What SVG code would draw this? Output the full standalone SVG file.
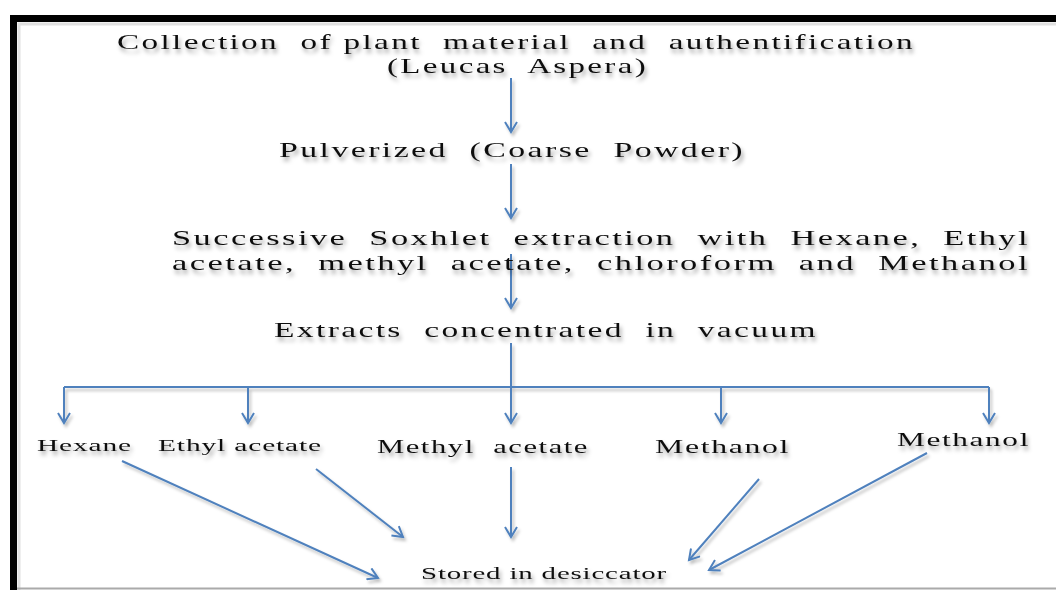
<svg xmlns="http://www.w3.org/2000/svg" width="1056" height="590" viewBox="0 0 1056 590">
<style>
text{font-family:"Liberation Serif","Times New Roman",serif;fill:#111;filter:url(#sh);white-space:pre}
.t{font-size:21px;letter-spacing:1.5px}
.s{font-size:17px;letter-spacing:0.5px}
.m{font-size:19px;letter-spacing:1px}
.c{stroke:#4f81bd;stroke-width:2;fill:none;marker-end:url(#ah)}
.l{stroke:#4f81bd;stroke-width:2;fill:none}
</style>
<defs>
<filter id="sh" x="-5%" y="-30%" width="110%" height="180%">
<feDropShadow dx="2" dy="4" stdDeviation="2" flood-color="#000" flood-opacity="0.35"/>
</filter>
<filter id="lsh" x="-10%" y="-10%" width="120%" height="120%">
<feDropShadow dx="2" dy="3" stdDeviation="1.5" flood-color="#000" flood-opacity="0.25"/>
</filter>
<marker id="ah" markerWidth="14" markerHeight="14" refX="11" refY="7" orient="auto" markerUnits="userSpaceOnUse">
<path d="M1,1 L11,7 L1,13" fill="none" stroke="#4f81bd" stroke-width="2"/>
</marker>
</defs>
<rect width="1056" height="590" fill="#fff"/>
<g id="frame">
<path d="M19,590 V24 H1056" fill="none" stroke="#ccc" stroke-width="3" opacity="0.6"/>
<path d="M13.5,590 V18.5 H1056" fill="none" stroke="#000" stroke-width="7"/>
<line x1="17" y1="588.5" x2="1056" y2="588.5" stroke="#aaa" stroke-width="2"/>
</g>
<g id="connectors" filter="url(#lsh)">
<line class="c" x1="511" y1="78" x2="511" y2="132"/>
<line class="c" x1="511" y1="164" x2="511" y2="218"/>
<line class="c" x1="511" y1="254" x2="511" y2="308"/>
<line class="l" x1="511" y1="343" x2="511" y2="387"/>
<line class="l" x1="64" y1="387" x2="989" y2="387"/>
<line class="c" x1="64" y1="387" x2="64" y2="423"/>
<line class="c" x1="248" y1="387" x2="248" y2="423"/>
<line class="c" x1="511" y1="387" x2="511" y2="423"/>
<line class="c" x1="721" y1="387" x2="721" y2="423"/>
<line class="c" x1="989" y1="387" x2="989" y2="423"/>
<line class="c" x1="122" y1="461" x2="378" y2="578"/>
<line class="c" x1="316" y1="469" x2="403" y2="537"/>
<line class="c" x1="511" y1="467" x2="511" y2="537"/>
<line class="c" x1="759" y1="479" x2="689" y2="560"/>
<line class="c" x1="927" y1="453" x2="709" y2="570"/>
</g>
<g id="n1"><text class="t" x="117" y="49" textLength="798" lengthAdjust="spacingAndGlyphs">Collection  of plant  material  and  authentification</text>
<text class="t" x="387" y="73" textLength="261" lengthAdjust="spacingAndGlyphs">(Leucas  Aspera)</text></g>
<g id="n2"><text class="t" x="279" y="157" textLength="466" lengthAdjust="spacingAndGlyphs">Pulverized  (Coarse  Powder)</text></g>
<g id="n3"><text class="t" x="172" y="245" textLength="858" lengthAdjust="spacingAndGlyphs">Successive  Soxhlet  extraction  with  Hexane,  Ethyl</text>
<text class="t" x="172" y="270" textLength="858" lengthAdjust="spacingAndGlyphs">acetate,  methyl  acetate,  chloroform  and  Methanol</text></g>
<g id="n4"><text class="t" x="274" y="337" textLength="544" lengthAdjust="spacingAndGlyphs">Extracts  concentrated  in  vacuum</text></g>
<g id="n5"><text class="s" x="37" y="451" textLength="95" lengthAdjust="spacingAndGlyphs">Hexane</text></g>
<g id="n6"><text class="s" x="158" y="451" textLength="164" lengthAdjust="spacingAndGlyphs">Ethyl acetate</text></g>
<g id="n7"><text class="m" x="377" y="453" textLength="212" lengthAdjust="spacingAndGlyphs">Methyl  acetate</text></g>
<g id="n8"><text class="m" x="655" y="453" textLength="135" lengthAdjust="spacingAndGlyphs">Methanol</text></g>
<g id="n9"><text class="m" x="897" y="446" textLength="133" lengthAdjust="spacingAndGlyphs">Methanol</text></g>
<g id="n10"><text class="s" x="421" y="579" textLength="246" lengthAdjust="spacingAndGlyphs">Stored in desiccator</text></g>
</svg>
